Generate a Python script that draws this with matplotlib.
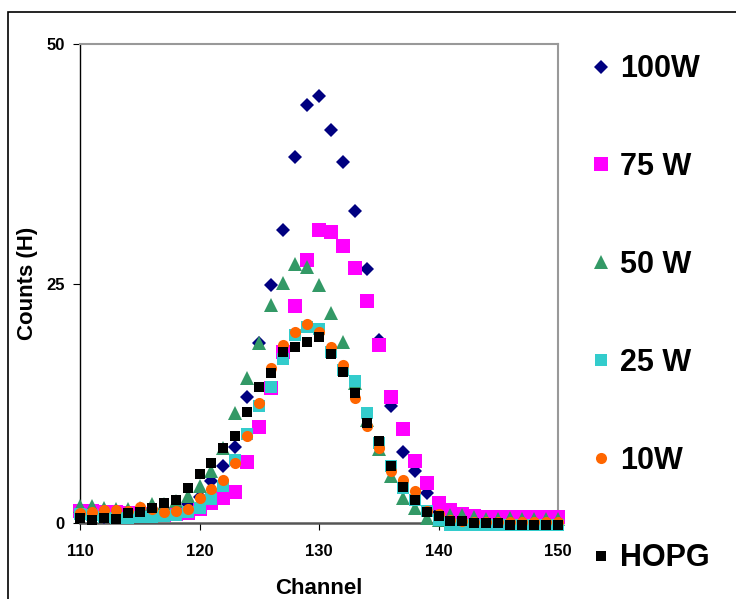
import matplotlib
matplotlib.use("Agg")
import matplotlib.pyplot as plt
from matplotlib.patches import Rectangle

plt.rcParams["font.family"] = ["Liberation Sans", "DejaVu Sans"]
plt.rcParams["font.weight"] = "bold"

channels = list(range(110, 151))

w100 = [0.8, 0.7, 0.6, 0.6, 0.8, 0.9, 1.1, 1.3, 1.6, 2.0,
        2.7, 4.4, 6.0, 7.9, 13.2, 18.8, 24.8, 30.6, 38.2, 43.6,
        44.6, 41.0, 37.7, 32.6, 26.5, 19.1, 12.2, 7.4, 5.4, 3.1,
        1.2, 0.6, 0.4, 0.3, 0.2, 0.2, 0.2, 0.2, 0.2, 0.2, 0.2]
w75 = [1.3, 1.3, 1.2, 1.1, 1.0, 0.9, 0.8, 0.8, 0.9, 1.0,
       1.5, 2.1, 2.6, 3.2, 6.4, 10.0, 14.1, 17.9, 22.6, 27.5,
       30.6, 30.4, 28.9, 26.6, 23.2, 18.6, 13.2, 9.8, 6.5, 4.2,
       2.1, 1.4, 0.9, 0.7, 0.6, 0.6, 0.6, 0.6, 0.6, 0.6, 0.6]
w50 = [1.8, 1.8, 1.6, 1.5, 1.5, 1.6, 2.0, 2.0, 2.3, 2.8,
       3.9, 5.4, 7.8, 11.5, 15.1, 18.8, 22.8, 25.1, 27.0, 26.7,
       24.8, 21.9, 18.9, 14.6, 10.8, 7.7, 4.9, 2.6, 1.6, 0.5,
       0.3, 0.8, 0.8, 0.6, 0.4, 0.4, 0.5, 0.4, 0.4, 0.4, 0.4]
w25 = [0.9, 0.8, 0.6, 0.5, 0.5, 0.6, 0.6, 0.7, 0.8, 1.2,
       1.6, 2.5, 3.9, 6.6, 9.3, 12.2, 14.2, 17.1, 19.6, 20.5,
       20.2, 17.9, 16.0, 14.8, 11.5, 8.3, 5.9, 3.7, 2.4, 1.3,
       0.3, -0.2, -0.2, -0.2, -0.2, -0.2, -0.2, -0.2, -0.2, -0.2, -0.2]
w10 = [1.0, 1.2, 1.4, 1.4, 1.3, 1.7, 1.5, 1.2, 1.3, 1.5,
       2.6, 3.5, 4.5, 6.3, 9.1, 12.5, 16.2, 18.6, 19.9, 20.8,
       19.9, 18.4, 16.5, 13.0, 10.1, 7.8, 5.4, 4.5, 3.3, 1.3,
       0.9, 0.3, 0.2, 0.1, 0.1, 0.1, 0.1, 0.1, 0.1, 0.1, 0.1]
hopg = [0.5, 0.35, 0.5, 0.45, 1.0, 1.2, 1.6, 2.1, 2.4, 3.7,
        5.1, 6.3, 7.8, 9.1, 11.6, 14.2, 15.7, 17.9, 18.4, 18.9,
        19.4, 17.6, 15.8, 13.6, 10.4, 8.6, 5.9, 3.8, 2.4, 1.1,
        0.7, 0.2, 0.2, 0.0, 0.0, 0.0, -0.2, -0.2, -0.2, -0.2, -0.2]

series = [
    ("100W", w100, "D", "#000080", 7.5),
    ("75 W", w75, "s", "#FF00FF", 10),
    ("50 W", w50, "^", "#339966", 10),
    ("25 W", w25, "s", "#33CCCC", 9),
    ("10W", w10, "o", "#FF6600", 8),
    ("HOPG", hopg, "s", "#000000", 7),
]

fig = plt.figure(figsize=(7.36, 5.99), dpi=100)
ax = fig.add_axes([80 / 736, 76 / 599, 478 / 736, 479 / 599])

# outer frame like the original chart area
fig.patches.append(Rectangle((8 / 736, -0.05), 1.0, 1 - 12 / 599 + 0.05,
                             transform=fig.transFigure, fill=False,
                             edgecolor="black", linewidth=1.2))

handles = []
for label, values, marker, color, size in series:
    h, = ax.plot(channels, values, linestyle="none", marker=marker,
                 markersize=size, color=color, markeredgewidth=0,
                 clip_on=False, zorder=3, label=label)
    handles.append(h)

ax.set_xlim(110, 150)
ax.set_ylim(0, 50)
ax.set_xticks([110, 120, 130, 140, 150])
ax.set_yticks([0, 25, 50])
ax.tick_params(axis="x", direction="out", length=5, pad=10, labelsize=12)
ax.tick_params(axis="y", direction="out", length=5, pad=6, labelsize=12)

ax.spines["left"].set_color("black")
ax.spines["left"].set_linewidth(1.0)
ax.spines["bottom"].set_color("#555555")
ax.spines["bottom"].set_linewidth(1.8)
ax.spines["top"].set_color("#999999")
ax.spines["right"].set_color("#999999")
ax.spines["top"].set_linewidth(1.5)
ax.spines["right"].set_linewidth(1.5)

ax.set_xlabel("Channel", fontsize=16, fontweight="bold", labelpad=14)
ax.set_ylabel("Counts (H)", fontsize=16, fontweight="bold", labelpad=6)

fig.legend(handles=handles, loc="upper left", bbox_to_anchor=(573 / 736, 1 - 42 / 599),
           frameon=False, fontsize=22, labelspacing=2.22, handletextpad=0.15,
           handlelength=1.0, borderaxespad=0)

fig.savefig("out.png", dpi=100)
